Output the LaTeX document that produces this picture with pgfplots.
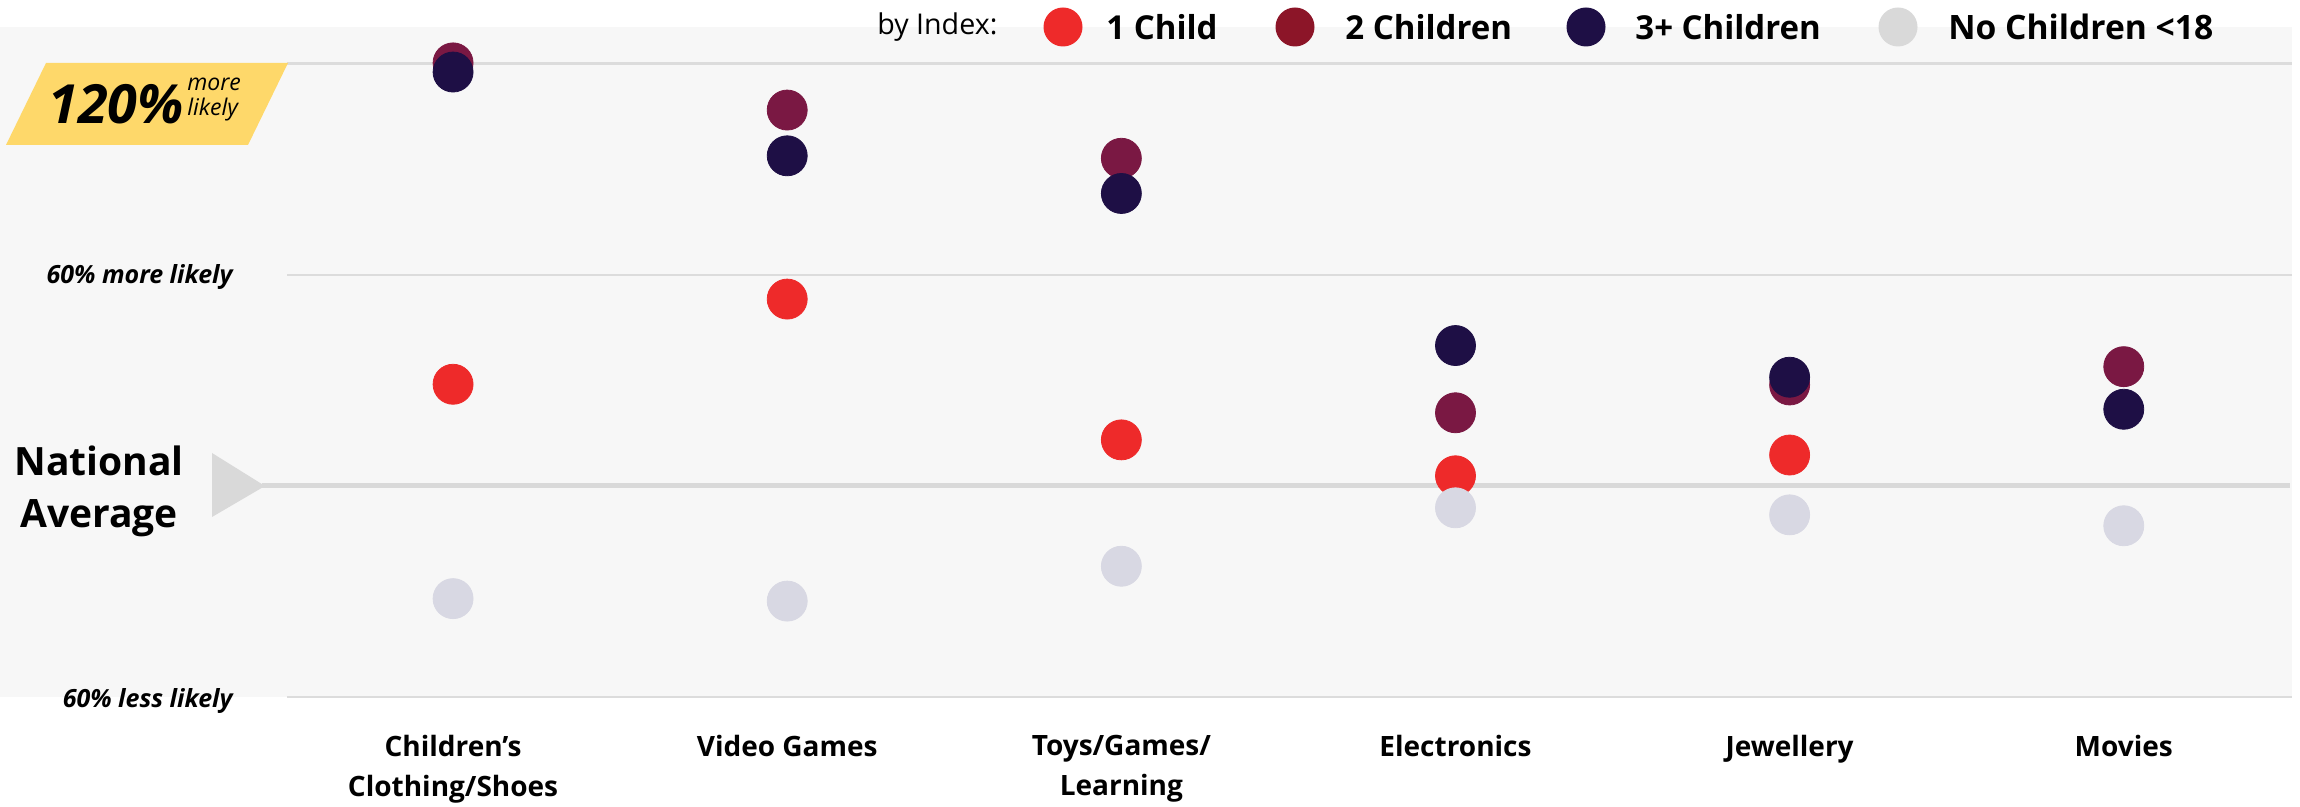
\documentclass[border=0pt]{standalone}
\usepackage{pgfplots}
\pgfplotsset{compat=1.18}
\usepackage{fontspec}
\setmainfont{Open Sans}
\definecolor{cOne}{HTML}{EE2A2A}
\definecolor{cTwo}{HTML}{7A1843}
\definecolor{cTwoL}{HTML}{8C1528}
\definecolor{cThree}{HTML}{1E0F45}
\definecolor{cNo}{HTML}{D8D8E3}
\definecolor{cNoL}{HTML}{D9D9D9}
\definecolor{bg}{HTML}{F7F7F7}
\definecolor{grid}{HTML}{DCDCDC}
\definecolor{avg}{HTML}{D9D9D9}
\definecolor{yel}{HTML}{FED86A}
\begin{document}
\begin{tikzpicture}
\begin{scope}[x=0.5pt,y=0.5pt]
\path[use as bounding box] (0,0) rectangle (2300,807);
% background
\fill[bg] (0,110) rectangle (2292,780);
% gridlines
\draw[grid, line width=1.1pt] (287,743.4) -- (2292,743.4);
\draw[grid, line width=1.1pt] (287,531.8) -- (2292,531.8);
\draw[grid, line width=1.1pt] (287,109.8) -- (2292,109.8);
% national average
\fill[avg] (212,354) -- (212,290) -- (265,321) -- cycle;
\draw[avg, line width=2.5pt] (262,321) -- (2290,321);
\node[font=\fontsize{19.5}{26}\selectfont\bfseries, align=center, inner sep=0] at (99,316) {National\\Average};
% yellow label
\fill[yel] (46,744) -- (288,744) -- (248,662) -- (6,662) -- cycle;
\node[font=\fontsize{27}{27}\selectfont\bfseries\itshape, anchor=west, inner sep=0] at (48,703) {120\%};
\node[font=\fontsize{11.5}{12.5}\selectfont\itshape, anchor=west, inner sep=0, align=left] at (187,707) {more\\likely};
% y labels
\node[font=\fontsize{12.5}{14}\selectfont\bfseries\itshape, anchor=east, inner sep=0] at (233,530) {60\% more likely};
\node[font=\fontsize{12.5}{14}\selectfont\bfseries\itshape, anchor=east, inner sep=0] at (233,106) {60\% less likely};
% legend
\node[font=\fontsize{14.3}{16}\selectfont, anchor=west, inner sep=0] at (877,780) {by Index:};
\fill[cOne] (1063,780) circle[radius=19.5];
\node[font=\fontsize{16.5}{18}\selectfont\bfseries, anchor=west, inner sep=0] at (1106,780) {1 Child};
\fill[cTwoL] (1295,780) circle[radius=19.5];
\node[font=\fontsize{16.5}{18}\selectfont\bfseries, anchor=west, inner sep=0] at (1345,780) {2 Children};
\fill[cThree] (1586,780) circle[radius=19.5];
\node[font=\fontsize{16.5}{18}\selectfont\bfseries, anchor=west, inner sep=0] at (1635,780) {3+ Children};
\fill[cNoL] (1898,780) circle[radius=19.5];
\node[font=\fontsize{16.8}{18}\selectfont\bfseries, anchor=west, inner sep=0] at (1948,780) {No Children <18};
\end{scope}
\begin{axis}[
  at={(143pt,54.9pt)}, anchor=south west,
  scale only axis, width=1002.5pt, height=334.4pt,
  xmin=-0.5, xmax=5.5, ymin=40, ymax=230,
  axis line style={draw=none}, major tick length=0pt,
  ytick=\empty,
  xtick={0,1,2,3,4,5},
  xticklabels={{Children’s\\Clothing/Shoes},{Video Games},{Toys/Games/\\Learning},{Electronics},{Jewellery},{Movies}},
  xticklabel style={align=center, anchor=north, inner sep=0pt, yshift=-19pt, font=\fontsize{14}{20}\selectfont\bfseries},
  clip=false,
]
\addplot[only marks, mark=*, mark size=10pt, color=cOne, mark options={fill=cOne, draw=cOne}] coordinates {(0,128.9) (1,153.1) (2,113.1) (3,102.9) (4,108.8)};
\addplot[only marks, mark=*, mark size=10pt, color=cTwo, mark options={fill=cTwo, draw=cTwo}] coordinates {(0,220.2) (1,206.8) (2,193.1) (3,120.8) (4,128.7) (5,133.9)};
\addplot[only marks, mark=*, mark size=10pt, color=cThree, mark options={fill=cThree, draw=cThree}] coordinates {(0,217.6) (1,193.8) (2,183.1) (3,139.9) (4,130.9) (5,121.8)};
\addplot[only marks, mark=*, mark size=10pt, color=cNo, mark options={fill=cNo, draw=cNo}] coordinates {(0,68) (1,67.3) (2,77.2) (3,93.8) (4,91.8) (5,88.7)};
\end{axis}
\end{tikzpicture}
\end{document}
